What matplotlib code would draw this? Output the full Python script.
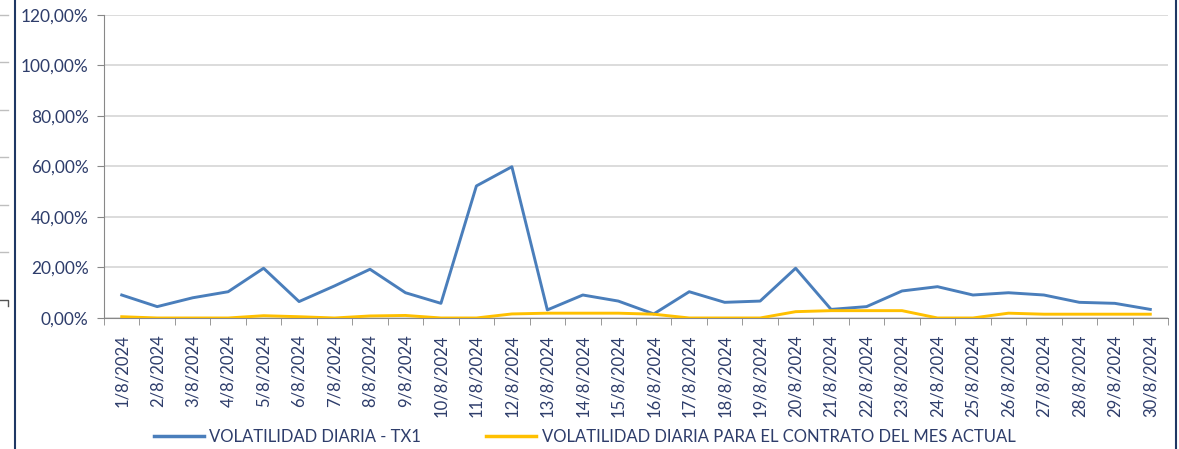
import matplotlib
matplotlib.use("Agg")
import matplotlib.pyplot as plt
from matplotlib.lines import Line2D
from matplotlib.ticker import FuncFormatter, FixedLocator

# datos (en %)
fechas = [f"{d}/8/2024" for d in range(1, 31)]
vol_tx1 = [9.1, 4.5, 8.0, 10.4, 19.7, 6.5, 12.7, 19.3, 10.0, 5.8,
           52.3, 59.9, 3.2, 9.1, 6.7, 1.6, 10.4, 6.2, 6.7, 19.7,
           3.4, 4.5, 10.7, 12.4, 9.1, 10.0, 9.1, 6.2, 5.8, 3.4]
vol_mes = [0.5, 0.0, 0.0, 0.0, 0.9, 0.5, 0.0, 0.8, 1.0, 0.0,
           0.0, 1.6, 1.9, 1.9, 1.9, 1.5, 0.0, 0.0, 0.0, 2.5,
           2.9, 2.9, 2.9, 0.0, 0.0, 1.9, 1.5, 1.5, 1.5, 1.5]
leyenda = ["VOLATILIDAD DIARIA - TX1", "VOLATILIDAD DIARIA PARA EL CONTRATO DEL MES ACTUAL"]

azul = "#4A7EBB"
amarillo = "#FFC000"
texto = "#2E3D6B"

plt.rcParams['font.family'] = ['Lato', 'DejaVu Sans']

fig = plt.figure(figsize=(11.79, 4.49), dpi=100)
ax = fig.add_axes([0.0882, 0.2918, 0.9025, 0.6748])

x = list(range(len(fechas)))
ax.plot(x, vol_tx1, color=azul, lw=2.1, zorder=3)
ax.plot(x, vol_mes, color=amarillo, lw=2.1, zorder=3)

ax.set_xlim(-0.5, len(fechas) - 0.5)
ax.set_ylim(0, 120)
ax.set_yticks(range(0, 121, 20))
ax.yaxis.set_major_formatter(FuncFormatter(lambda v, p: f"{v:.2f}%".replace(".", ",")))
ax.grid(axis='y', color='#D9D9D9', lw=1.3, zorder=0)

ax.set_xticks(x)
ax.set_xticklabels(fechas, rotation=90, color=texto, fontsize=12)
ax.xaxis.set_minor_locator(FixedLocator([i - 0.5 for i in range(len(fechas) + 1)]))
ax.tick_params(axis='x', which='major', length=0, pad=12)
ax.tick_params(axis='x', which='minor', length=5, color='#888888')
ax.tick_params(axis='y', length=5, color='#888888', labelcolor=texto, labelsize=12.5, pad=6)

for s in ['top', 'right']:
    ax.spines[s].set_visible(False)
ax.spines['left'].set_color('#888888')
ax.spines['bottom'].set_color('#888888')

handles = [Line2D([], [], color=azul, lw=2.5), Line2D([], [], color=amarillo, lw=2.5)]
fig.legend(handles, leyenda, loc='center', bbox_to_anchor=(0.496, 0.027), ncol=2, frameon=False,
           fontsize=12, labelcolor=texto, handlelength=3.0, columnspacing=3.9, handletextpad=0.35)

# bordes de la captura
fig.add_artist(Line2D([15 / 1179, 15 / 1179], [0, 1], color='#1F3864', lw=1.5))
fig.add_artist(Line2D([1176 / 1179, 1176 / 1179], [0, 1], color='#1F3864', lw=1.5))
for yp in [15, 62, 110, 157, 205, 252]:
    fig.add_artist(Line2D([0, 8 / 1179], [1 - yp / 449] * 2, color='#BFBFBF', lw=1))
fig.add_artist(Line2D([0, 8 / 1179, 8 / 1179], [1 - 300 / 449, 1 - 300 / 449, 1 - 306 / 449],
                      color='#555555', lw=1))

fig.savefig("out.png", dpi=100)
